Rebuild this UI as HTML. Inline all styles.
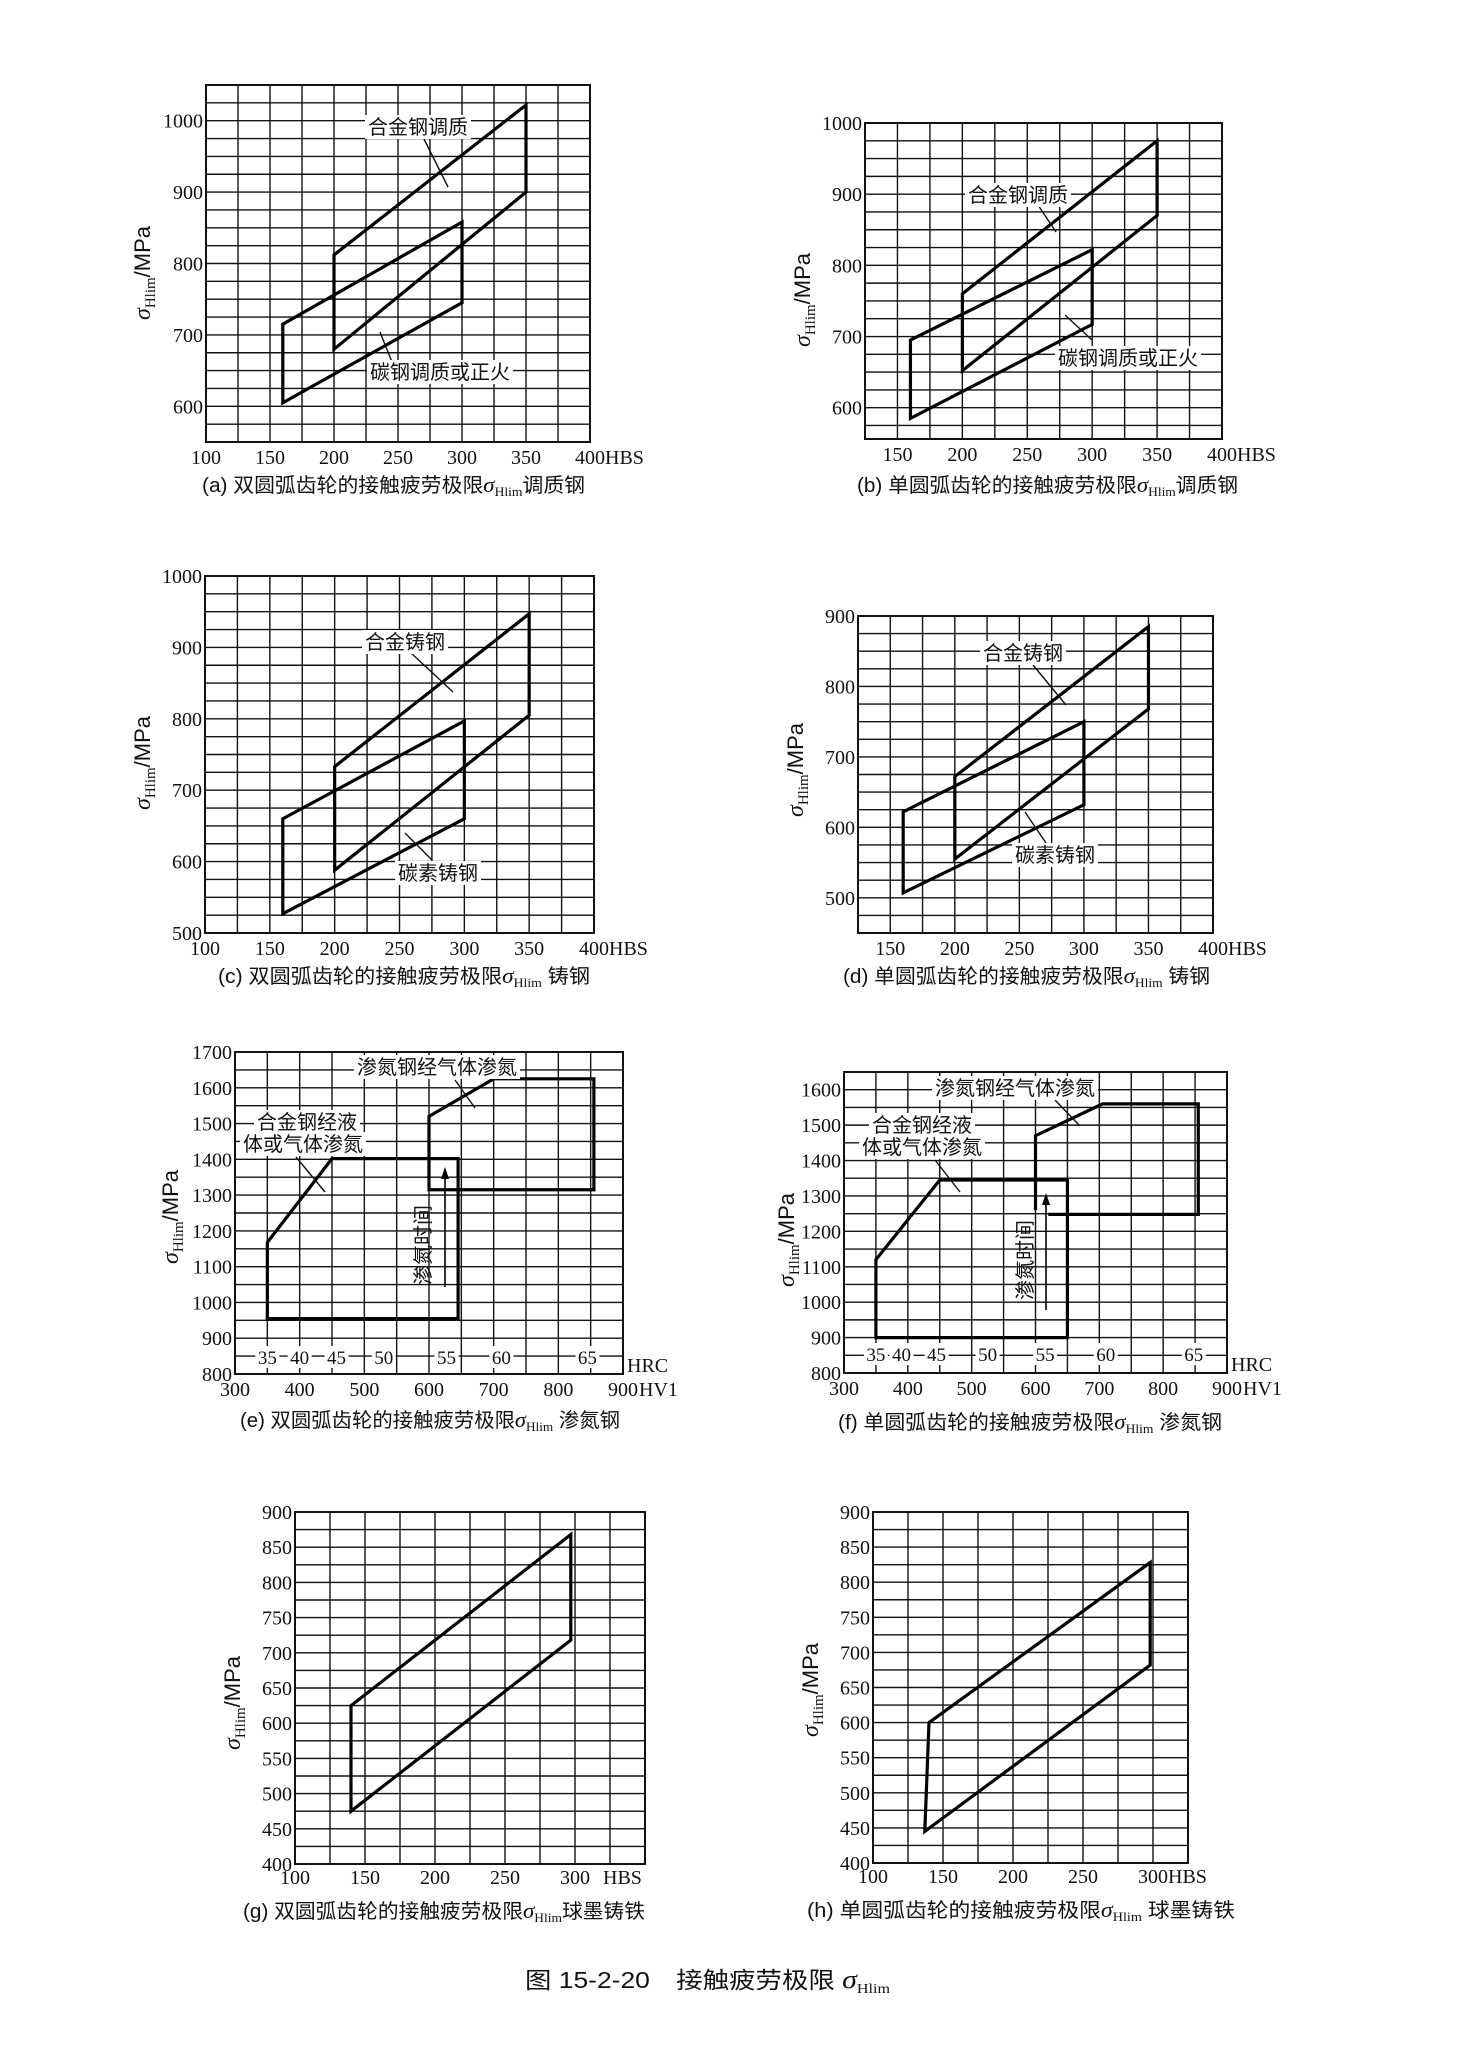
<!DOCTYPE html>
<html><head><meta charset="utf-8">
<style>
html,body{margin:0;padding:0;background:#fff;}
svg{display:block;}
text{font-family:"Liberation Serif","Noto Serif CJK SC","Noto Sans CJK SC",serif;fill:#111;}
.cj{font-family:"Liberation Sans","Noto Sans CJK SC",sans-serif;}
</style></head>
<body>
<svg id="fig" width="1457" height="2051" viewBox="0 0 1457 2051" xmlns="http://www.w3.org/2000/svg">
<rect x="0" y="0" width="1457" height="2051" fill="#fff"/>
</svg>
<script>
// ---- data (HBS / HV1 vs sigma Hlim MPa) ----
const aAlloyX=[200,350,350,200];
const aAlloyY=[812,1022,900,680];
const aCarbonX=[160,300,300,160];
const aCarbonY=[715,858,745,605];
const bAlloyX=[200,350,350,200];
const bAlloyY=[760,975,870,652];
const bCarbonX=[160,300,300,160];
const bCarbonY=[695,822,717,585];
const cAlloyX=[200,350,350,200];
const cAlloyY=[733,947,805,588];
const cCarbonX=[160,300,300,160];
const cCarbonY=[660,797,660,527];
const dAlloyX=[200,350,350,200];
const dAlloyY=[672,885,768,555];
const dCarbonX=[160,300,300,160];
const dCarbonY=[622,750,632,507];
const eAlloyX=[350,450,645,645,350];
const eAlloyY=[1168,1402,1402,955,955];
const eNitrideX=[600,600,700,855,855];
const eNitrideY=[1315,1520,1625,1625,1315];
const fAlloyX=[350,450,650,650,350];
const fAlloyY=[1120,1345,1345,900,900];
const fNitrideX=[600,600,705,855,855,620];
const fNitrideY=[1260,1470,1560,1560,1248,1248];
const gIronX=[140,297,297,140];
const gIronY=[625,868,718,475];
const hIronX=[140,298,298,137];
const hIronY=[600,828,682,445];
// ticks
const xTicksHBS=[100,150,200,250,300,350,400];
const xTicksHBSb=[150,200,250,300,350,400];
const yTicksA=[600,700,800,900,1000];
const yTicksC=[500,600,700,800,900,1000];
const yTicksD=[500,600,700,800,900];
const xTicksHV=[300,400,500,600,700,800,900];
const yTicksE=[800,900,1000,1100,1200,1300,1400,1500,1600,1700];
const yTicksF=[800,900,1000,1100,1200,1300,1400,1500,1600];
const xTicksG=[100,150,200,250,300];
const yTicksG=[400,450,500,550,600,650,700,750,800,850,900];
const hrcLabelsE=["35","40","45","50","55","60","65"];
const hrcPosE=[350,400,457,530,627,712,845];
const hrcPosF=[350,390,445,525,615,710,848];

const NS="http://www.w3.org/2000/svg";
const svg=document.getElementById('fig');
function mk(tag,attrs,parent){const e=document.createElementNS(NS,tag);for(const k in attrs)e.setAttribute(k,attrs[k]);(parent||svg).appendChild(e);return e;}

function chart(c){
  const g=mk('g',{});
  
  
  const sx=v=>c.L+(v-c.x0)/(c.x1-c.x0)*(c.R-c.L);
  const sy=v=>c.B-(v-c.y0)/(c.y1-c.y0)*(c.B-c.T);
  for(let v=c.x0+c.xs; v<c.x1-0.01; v+=c.xs){
    const l=mk('line',{x1:sx(v),x2:sx(v),y1:c.T,y2:c.B,stroke:'#111','stroke-width':1.4},g);
    
    
  }
  for(let v=c.y1-c.ys; v>c.y0+0.01; v-=c.ys){
    const l=mk('line',{x1:c.L,x2:c.R,y1:sy(v),y2:sy(v),stroke:'#111','stroke-width':1.4},g);
    
    
  }
  const fr=mk('rect',{x:c.L,y:c.T,width:c.R-c.L,height:c.B-c.T,fill:'none',stroke:'#111','stroke-width':2},g);
  
  
  c.yt.forEach(v=>{
    const t=mk('text',{x:c.L-3,y:sy(v)+7,'text-anchor':'end','font-size':20},g);
    t.textContent=v;
    
    
  });
  c.xt.forEach((v,i)=>{
    const t=mk('text',{x:sx(v),y:c.B+c.xly,'text-anchor':'middle','font-size':20},g);
    t.textContent=v;
    
    
  });
  const u=mk('text',{x:sx(c.xt[c.xt.length-1])+c.unitGap,y:c.B+c.xly,'font-size':20},g);
  u.textContent=c.unit;
  
  
  c.series.forEach(s=>{
    const pts=s.x.map((v,i)=>sx(v)+','+sy(s.y[i])).join(' ');
    const p=mk(s.closed?'polygon':'polyline',{points:pts,fill:'none',stroke:'#000','stroke-width':3.2,'stroke-linejoin':'miter'},g);
    
    
  });
  const yt=mk('text',{transform:`translate(${c.ytx},${c.yty}) rotate(-90)`,'text-anchor':'middle','font-size':22},g);
  
  
  yt.innerHTML='<tspan font-style="italic" font-size="24">σ</tspan><tspan font-size="15" dy="5">Hlim</tspan><tspan dy="-5" font-family="Liberation Sans">/MPa</tspan>';
  const cp=mk('text',{x:c.capX,y:c.capY,'font-size':20,textLength:c.capW,lengthAdjust:'spacingAndGlyphs'},g);
  cp.setAttribute('class','cj');
  
  
  cp.innerHTML=`${c.cap1}<tspan font-style="italic" font-family="Liberation Serif" font-size="22">σ</tspan><tspan font-size="13" font-family="Liberation Serif" dy="4">Hlim</tspan><tspan dy="-4">${c.cap2}</tspan>`;
  (c.ann||[]).forEach(a=>{
    if(a.lead){const l=mk('line',{x1:a.lead[0],y1:a.lead[1],x2:a.lead[2],y2:a.lead[3],stroke:'#111','stroke-width':1.4},g);
      
      }
    const w=a.t.length*20+6;
    const r=mk('rect',{x:a.x-w/2,y:a.y-12,width:w,height:24,fill:'#fff'},g);
    
    
    const t=mk('text',{x:a.x,y:a.y+7,'text-anchor':'middle','font-size':20},g);
    t.setAttribute('class','cj');
    t.textContent=a.t;
    
    
  });
  if(c.hrc){
    c.hrc.forEach((v,i)=>{
      const x=sx(c.hrcPos[i]);
      const r=mk('rect',{x:x-12,y:c.hrcY-12,width:24,height:22,fill:'#fff'},g);
      
      
      const t=mk('text',{x:x,y:c.hrcY+6,'text-anchor':'middle','font-size':19},g);
      t.textContent=v;
      
      
    });
    const h=mk('text',{x:c.R+4,y:c.B-2,'font-size':20},g);
    h.textContent='HRC';
    
    
    const vt=mk('text',{transform:`translate(${c.vtx},${c.vty}) rotate(-90)`,'text-anchor':'middle','font-size':20},g);
    vt.setAttribute('class','cj');
    vt.textContent='渗氮时间';
    
    
    const al=mk('line',{x1:c.arr[0],y1:c.arr[1],x2:c.arr[0],y2:c.arr[2]+8,stroke:'#000','stroke-width':1.6},g);
    
    
    const ah=mk('polygon',{points:`${c.arr[0]-4},${c.arr[2]+12} ${c.arr[0]+4},${c.arr[2]+12} ${c.arr[0]},${c.arr[2]}`,fill:'#000'},g);
    
    
  }
}

chart({name:'chart-a',L:206,R:590,T:85,B:442,x0:100,x1:400,y0:550,y1:1050,xs:25,ys:25,
  xt:xTicksHBS,yt:yTicksA,xly:22,unit:'HBS',unitGap:15,ytx:150,yty:273,
  capX:202,capY:492,capW:383,cap1:'(a) 双圆弧齿轮的接触疲劳极限',cap2:'调质钢',
  series:[{name:'alloy-steel-band',x:aAlloyX,y:aAlloyY,closed:true},{name:'carbon-steel-band',x:aCarbonX,y:aCarbonY,closed:true}],
  ann:[{t:'合金钢调质',x:418,y:127,lead:[422,135,448,187]},{t:'碳钢调质或正火',x:440,y:372,lead:[380,332,392,362]}]});
chart({name:'chart-b',L:865,R:1222,T:123,B:439,x0:125,x1:400,y0:556,y1:1000,xs:25,ys:25,
  xt:xTicksHBSb,yt:yTicksA,xly:22,unit:'HBS',unitGap:15,ytx:810,yty:300,
  capX:857,capY:492,capW:381,cap1:'(b) 单圆弧齿轮的接触疲劳极限',cap2:'调质钢',
  series:[{name:'alloy-steel-band',x:bAlloyX,y:bAlloyY,closed:true},{name:'carbon-steel-band',x:bCarbonX,y:bCarbonY,closed:true}],
  ann:[{t:'合金钢调质',x:1018,y:195,lead:[1038,205,1056,232]},{t:'碳钢调质或正火',x:1128,y:358,lead:[1065,315,1092,340]}]});
chart({name:'chart-c',L:205,R:594,T:576,B:933,x0:100,x1:400,y0:500,y1:1000,xs:25,ys:25,
  xt:xTicksHBS,yt:yTicksC,xly:22,unit:'HBS',unitGap:15,ytx:150,yty:763,
  capX:218,capY:983,capW:372,cap1:'(c) 双圆弧齿轮的接触疲劳极限',cap2:' 铸钢',
  series:[{name:'alloy-cast-steel-band',x:cAlloyX,y:cAlloyY,closed:true},{name:'carbon-cast-steel-band',x:cCarbonX,y:cCarbonY,closed:true}],
  ann:[{t:'合金铸钢',x:405,y:642,lead:[410,652,453,692]},{t:'碳素铸钢',x:438,y:873,lead:[405,833,432,860]}]});
chart({name:'chart-d',L:858,R:1213,T:616,B:933,x0:125,x1:400,y0:450,y1:900,xs:25,ys:25,
  xt:xTicksHBSb,yt:yTicksD,xly:22,unit:'HBS',unitGap:15,ytx:803,yty:770,
  capX:843,capY:983,capW:367,cap1:'(d) 单圆弧齿轮的接触疲劳极限',cap2:' 铸钢',
  series:[{name:'alloy-cast-steel-band',x:dAlloyX,y:dAlloyY,closed:true},{name:'carbon-cast-steel-band',x:dCarbonX,y:dCarbonY,closed:true}],
  ann:[{t:'合金铸钢',x:1023,y:653,lead:[1033,665,1066,705]},{t:'碳素铸钢',x:1055,y:855,lead:[1025,812,1046,843]}]});
chart({name:'chart-e',L:235,R:623,T:1052,B:1374,x0:300,x1:900,y0:800,y1:1700,xs:50,ys:50,
  xt:xTicksHV,yt:yTicksE,xly:22,unit:'HV1',unitGap:16,ytx:178,yty:1217,
  capX:240,capY:1427,capW:380,cap1:'(e) 双圆弧齿轮的接触疲劳极限',cap2:' 渗氮钢',
  series:[{name:'alloy-steel-nitrided',x:eAlloyX,y:eAlloyY,closed:true},{name:'nitriding-steel-gas',x:eNitrideX,y:eNitrideY,closed:true}],
  ann:[{t:'渗氮钢经气体渗氮',x:437,y:1067,lead:[455,1080,475,1108]},{t:'合金钢经液',x:307,y:1122},{t:'体或气体渗氮',x:303,y:1144,lead:[296,1157,325,1192]}],
  hrc:hrcLabelsE,hrcPos:hrcPosE,hrcY:1358,vtx:430,vty:1245,arr:[445,1287,1167]});
chart({name:'chart-f',L:844,R:1227,T:1072,B:1373,x0:300,x1:900,y0:800,y1:1650,xs:50,ys:50,
  xt:xTicksHV,yt:yTicksF,xly:22,unit:'HV1',unitGap:16,ytx:794,yty:1240,
  capX:838,capY:1429,capW:384,cap1:'(f) 单圆弧齿轮的接触疲劳极限',cap2:' 渗氮钢',
  series:[{name:'alloy-steel-nitrided',x:fAlloyX,y:fAlloyY,closed:true},{name:'nitriding-steel-gas',x:fNitrideX,y:fNitrideY,closed:false}],
  ann:[{t:'渗氮钢经气体渗氮',x:1015,y:1088,lead:[1055,1100,1080,1126]},{t:'合金钢经液',x:922,y:1125},{t:'体或气体渗氮',x:922,y:1147,lead:[935,1160,960,1192]}],
  hrc:hrcLabelsE,hrcPos:hrcPosF,hrcY:1355,vtx:1032,vty:1260,arr:[1046,1310,1193]});
chart({name:'chart-g',L:295,R:645,T:1512,B:1864,x0:100,x1:350,y0:400,y1:900,xs:25,ys:25,
  xt:xTicksG,yt:yTicksG,xly:20,unit:'HBS',unitGap:28,ytx:240,yty:1703,
  capX:243,capY:1918,capW:402,cap1:'(g) 双圆弧齿轮的接触疲劳极限',cap2:'球墨铸铁',
  series:[{name:'nodular-iron-band',x:gIronX,y:gIronY,closed:true}]});
chart({name:'chart-h',L:873,R:1188,T:1512,B:1863,x0:100,x1:325,y0:400,y1:900,xs:25,ys:25,
  xt:xTicksG,yt:yTicksG,xly:20,unit:'HBS',unitGap:15,ytx:818,yty:1690,
  capX:807,capY:1917,capW:428,cap1:'(h) 单圆弧齿轮的接触疲劳极限',cap2:' 球墨铸铁',
  series:[{name:'nodular-iron-band',x:hIronX,y:hIronY,closed:true}]});

const ft=mk('text',{x:525,y:1988,'font-size':23,textLength:365,lengthAdjust:'spacingAndGlyphs'});
ft.setAttribute('class','cj');


ft.innerHTML='图 15-2-20　接触疲劳极限 <tspan font-style="italic" font-family="Liberation Serif" font-size="26">σ</tspan><tspan font-size="14" font-family="Liberation Serif" dy="5">Hlim</tspan>';
</script>
</body></html>
